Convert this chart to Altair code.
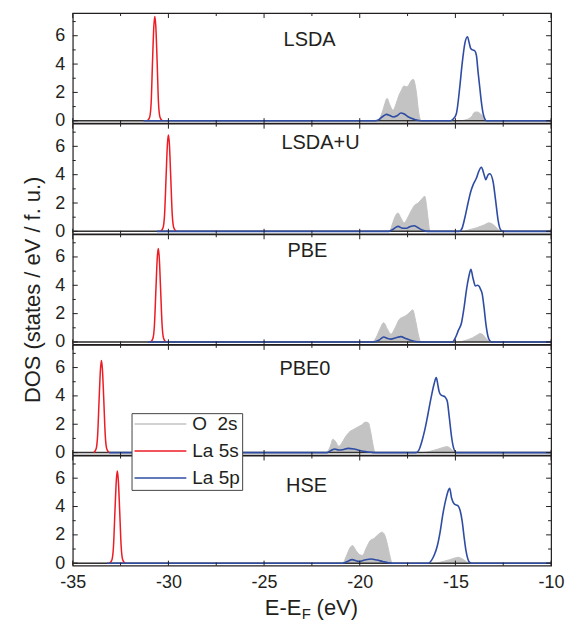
import altair as alt
import pandas as pd

FONT = "Liberation Sans"
TXT = "#231f20"
W, H = 480, 110.5

# ---------------- data (energy in eV, DOS in states/eV/f.u.) ----------------
PANELS = ["LSDA", "LSDA+U", "PBE", "PBE0", "HSE"]
SERIES = ["O\u00a0 2s", "La 5s", "La 5p"]
COLORS = ["#c3c3c3", "#ed1c24", "#2e4ca3"]

X_MAJOR = [-35, -30, -25, -20, -15, -10]
X_MINOR = [-32.5, -27.5, -22.5, -17.5, -12.5]
Y_MAJOR = [0, 2, 4, 6]
Y_MINOR = [1, 3, 5, 7]
ZERO_E = [-35, -10]
ZERO_D = [0, 0]

# LSDA
LSDA_O_E = [-35, -19.1, -18.95, -18.8, -18.69, -18.57, -18.45, -18.26, -18.1, -17.95, -17.82, -17.7,
            -17.55, -17.45, -17.3, -17.2, -17.1, -17.03, -16.95, -16.88, -16.8,
            -14.75, -14.5, -14.3, -14.15, -14.0, -13.85, -13.7, -13.55, -13.45, -13.35, -10]
LSDA_O_D = [0, 0, 0.2, 0.7, 1.2, 1.58, 1.2, 0.75, 1.2, 1.8, 2.15, 2.45,
            2.4, 2.5, 2.85, 2.92, 2.5, 1.9, 0.9, 0.3, 0,
            0, 0.05, 0.15, 0.3, 0.6, 0.62, 0.5, 0.3, 0.1, 0, 0]
LSDA_S_E = [-31.1, -30.98, -30.9, -30.83, -30.76, -30.71, -30.66, -30.59, -30.52, -30.44, -30.32]
LSDA_S_D = [0, 0.25, 1.3, 4.2, 6.7, 7.35, 6.7, 4.2, 1.3, 0.25, 0]
LSDA_P_E = [-31.3, -19.2, -19.0, -18.8, -18.6, -18.4, -18.25, -18.05, -17.85, -17.7, -17.5, -17.3,
            -17.1, -16.9, -16.7, -15.25, -15.1, -14.95, -14.77, -14.65, -14.5, -14.37, -14.28,
            -14.2, -14.1, -13.99, -13.9, -13.82, -13.73, -13.64, -13.55, -13.45, -13.38, -10]
LSDA_P_D = [0, 0, 0.08, 0.3, 0.45, 0.35, 0.27, 0.35, 0.55, 0.5, 0.3, 0.17,
            0.07, 0.02, 0, 0, 0.15, 0.5, 2.4, 4.0, 5.5, 5.93, 5.5,
            5.1, 5.0, 4.94, 4.6, 3.5, 2.4, 1.3, 0.5, 0.1, 0, 0]

# LSDA+U
LSDAU_O_E = [-35, -18.45, -18.3, -18.15, -18.0, -17.85, -17.68, -17.5, -17.35, -17.13, -16.95, -16.78,
             -16.6, -16.5, -16.42, -16.33, -14.7, -14.3, -13.9, -13.5, -13.25, -13.05, -12.85,
             -12.7, -12.6, -10]
LSDAU_O_D = [0, 0, 0.5, 1.05, 1.3, 0.95, 0.6, 0.95, 1.35, 1.85, 2.0, 2.25,
             2.47, 1.7, 0.8, 0, 0, 0.1, 0.25, 0.45, 0.6, 0.5, 0.25,
             0.05, 0, 0]
LSDAU_S_E = [-30.4, -30.28, -30.2, -30.12, -30.05, -30.0, -29.95, -29.88, -29.8, -29.72, -29.6]
LSDAU_S_D = [0, 0.25, 1.2, 3.9, 6.2, 6.8, 6.2, 3.9, 1.2, 0.25, 0]
LSDAU_P_E = [-30.6, -18.5, -18.25, -18.0, -17.75, -17.56, -17.35, -17.16, -16.95, -16.7, -16.45,
             -14.8, -14.65, -14.51, -14.34, -14.2, -14.07, -13.9, -13.78, -13.64, -13.5, -13.41,
             -13.29, -13.2, -13.03, -12.9, -12.77, -12.63, -12.5, -10]
LSDAU_P_D = [0, 0, 0.15, 0.35, 0.22, 0.22, 0.35, 0.4, 0.25, 0.08, 0,
             0, 0.23, 0.94, 2.0, 2.8, 3.3, 3.76, 4.23, 4.52, 4.0, 3.65,
             4.0, 4.07, 3.5, 2.2, 0.8, 0.1, 0, 0]

# PBE
PBE_O_E = [-35, -19.35, -19.15, -18.95, -18.75, -18.55, -18.37, -18.15, -17.93, -17.75, -17.6, -17.42,
           -17.23, -17.08, -16.95, -16.8, -14.85, -14.5, -14.1, -13.85, -13.7, -13.55, -13.4,
           -13.25, -13.15, -10]
PBE_O_D = [0, 0, 0.3, 0.9, 1.36, 0.9, 0.55, 1.0, 1.6, 1.75, 1.85, 2.05,
           2.26, 1.5, 0.6, 0, 0, 0.1, 0.3, 0.5, 0.6, 0.5, 0.25,
           0.05, 0, 0]
PBE_S_E = [-30.93, -30.81, -30.73, -30.65, -30.58, -30.53, -30.48, -30.41, -30.33, -30.25, -30.13]
PBE_S_D = [0, 0.25, 1.2, 3.8, 6.0, 6.6, 6.0, 3.8, 1.2, 0.25, 0]
PBE_P_E = [-31.07, -19.3, -19.0, -18.75, -18.55, -18.37, -18.1, -17.85, -17.6, -17.3, -17.0, -16.8,
           -15.15, -15.0, -14.85, -14.68, -14.55, -14.42, -14.3, -14.19, -14.08, -13.95, -13.85,
           -13.77, -13.68, -13.6, -13.5, -13.4, -13.3, -13.2, -13.1, -10]
PBE_P_D = [0, 0, 0.12, 0.35, 0.25, 0.2, 0.3, 0.38, 0.25, 0.1, 0.02, 0,
           0, 0.3, 0.8, 1.36, 2.4, 3.7, 4.6, 5.13, 4.5, 3.95, 4.0,
           3.95, 3.7, 3.4, 2.4, 1.2, 0.4, 0.08, 0, 0]

# PBE0
PBE0_O_E = [-35, -21.75, -21.55, -21.4, -21.25, -21.1, -20.95, -20.75, -20.5, -20.3, -20.1, -19.9,
            -19.7, -19.55, -19.42, -19.3, -19.2, -16.7, -16.3, -15.9, -15.6, -15.45, -15.3,
            -15.15, -15.0, -14.95, -10]
PBE0_O_D = [0, 0, 0.4, 0.95, 0.75, 0.45, 0.65, 1.1, 1.5, 1.65, 1.8, 1.95,
            2.15, 2.1, 1.4, 0.5, 0, 0, 0.1, 0.25, 0.38, 0.42, 0.35,
            0.15, 0.02, 0, 0]
PBE0_S_E = [-33.9, -33.78, -33.7, -33.62, -33.55, -33.5, -33.45, -33.38, -33.3, -33.22, -33.1]
PBE0_S_D = [0, 0.25, 1.2, 3.8, 5.9, 6.5, 5.9, 3.8, 1.2, 0.25, 0]
PBE0_P_E = [-33.1, -21.7, -21.5, -21.3, -21.1, -20.9, -20.6, -20.3, -20.0, -19.7, -19.4, -19.2,
            -17.05, -16.9, -16.75, -16.6, -16.45, -16.26, -16.12, -16.0, -15.92, -15.85, -15.78,
            -15.65, -15.56, -15.48, -15.42, -15.32, -15.2, -15.1, -15.0, -14.95, -10]
PBE0_P_D = [0, 0, 0.15, 0.25, 0.18, 0.2, 0.3, 0.25, 0.15, 0.07, 0.02, 0,
            0, 0.2, 0.8, 1.6, 2.6, 3.95, 4.8, 5.29, 4.8, 4.3, 4.1,
            4.0, 3.95, 3.8, 3.6, 2.5, 1.1, 0.35, 0.05, 0, 0]

# HSE
HSE_O_E = [-35, -20.9, -20.7, -20.5, -20.38, -20.2, -20.0, -19.86, -19.65, -19.45, -19.25, -19.05,
           -18.83, -18.7, -18.55, -18.42, -18.3, -16.1, -15.7, -15.3, -15.0, -14.86, -14.7,
           -14.5, -14.35, -14.25, -10]
HSE_O_D = [0, 0, 0.5, 1.1, 1.25, 0.9, 0.6, 0.55, 1.1, 1.6, 1.75, 2.0,
           2.19, 2.0, 1.3, 0.5, 0, 0, 0.1, 0.25, 0.38, 0.42, 0.35,
           0.18, 0.04, 0, 0]
HSE_S_E = [-33.07, -32.95, -32.87, -32.79, -32.72, -32.67, -32.62, -32.55, -32.47, -32.39, -32.27]
HSE_S_D = [0, 0.25, 1.2, 3.8, 5.9, 6.5, 5.9, 3.8, 1.2, 0.25, 0]
HSE_P_E = [-33.2, -20.9, -20.65, -20.4, -20.2, -20.03, -19.75, -19.4, -19.1, -18.8, -18.5, -18.3,
           -16.4, -16.25, -16.1, -15.95, -15.8, -15.65, -15.5, -15.38, -15.3, -15.2, -15.07,
           -14.95, -14.86, -14.75, -14.65, -14.55, -14.45, -14.35, -14.25, -14.15, -10]
HSE_P_D = [0, 0, 0.12, 0.25, 0.18, 0.12, 0.22, 0.3, 0.22, 0.12, 0.03, 0,
           0, 0.2, 0.6, 1.2, 2.2, 3.5, 4.5, 5.1, 5.29, 4.6, 4.2,
           4.1, 4.05, 3.7, 3.0, 1.9, 0.9, 0.3, 0.05, 0, 0]

# panel label anchor (left edge, E) and height (DOS)
LABEL_E = [-23.98, -24.09, -23.78, -24.2, -23.85]
LABEL_D = [5.67, 6.23, 6.42, 5.88, 5.45]

PANEL_DATA = [
    (LSDA_O_E, LSDA_O_D, LSDA_S_E, LSDA_S_D, LSDA_P_E, LSDA_P_D),
    (LSDAU_O_E, LSDAU_O_D, LSDAU_S_E, LSDAU_S_D, LSDAU_P_E, LSDAU_P_D),
    (PBE_O_E, PBE_O_D, PBE_S_E, PBE_S_D, PBE_P_E, PBE_P_D),
    (PBE0_O_E, PBE0_O_D, PBE0_S_E, PBE0_S_D, PBE0_P_E, PBE0_P_D),
    (HSE_O_E, HSE_O_D, HSE_S_E, HSE_S_D, HSE_P_E, HSE_P_D),
]

# ---------------- chart ----------------
X_SCALE = alt.Scale(domain=[-35, -10], nice=False, zero=False)
Y_SCALE = alt.Scale(domain=[-0.17, 7.6], nice=False, zero=False)

LEGEND = alt.Legend(title=None, orient="none", legendX=59, legendY=401.5,
                    symbolType="stroke", symbolSize=2704, symbolStrokeWidth=1.5,
                    clipHeight=18, rowPadding=8, padding=2, labelOffset=5,
                    labelFont=FONT, labelFontSize=19, labelColor=TXT,
                    strokeColor="#444", fillColor="white")
COLOR = alt.Color("series:N", scale=alt.Scale(domain=SERIES, range=COLORS), legend=LEGEND)


def panel(idx):
    name = PANELS[idx]
    o_e, o_d, s_e, s_d, p_e, p_d = PANEL_DATA[idx]
    last = idx == len(PANELS) - 1

    if last:
        xax = alt.Axis(values=X_MAJOR, labels=True, ticks=False, tickSize=0, labelFlush=False,
                       domain=False, grid=False, title=None, labelPadding=8, labelFontSize=18,
                       labelFont=FONT, labelColor=TXT, labelExpr="'' + datum.value")
    else:
        xax = None
    ytitle = "DOS (states / eV / f. u.)" if idx == 2 else None
    yax = alt.Axis(values=Y_MAJOR, ticks=False, tickSize=0, domain=False, grid=False,
                   labelFlush=False, labelPadding=8, labelFontSize=18, labelFont=FONT,
                   labelColor=TXT, title=ytitle, titleFont=FONT, titleFontSize=22,
                   titleFontWeight="normal", titleColor=TXT, titlePadding=10)
    XA = alt.X("E:Q", scale=X_SCALE, axis=xax)
    YA = alt.Y("DOS:Q", scale=Y_SCALE, axis=yax)

    o = pd.DataFrame({"E": o_e, "DOS": o_d, "series": SERIES[0]})
    s = pd.DataFrame({"E": s_e, "DOS": s_d, "series": SERIES[1]})
    p = pd.DataFrame({"E": p_e, "DOS": p_d, "series": SERIES[2]})
    z = pd.DataFrame({"E": ZERO_E, "DOS": ZERO_D})
    lab = pd.DataFrame({"E": [LABEL_E[idx]], "DOS": [LABEL_D[idx]], "t": [name]})

    area = alt.Chart(o).mark_area(color=COLORS[0], interpolate="monotone").encode(x=XA, y=YA)
    oline = alt.Chart(o).mark_line(interpolate="monotone", strokeWidth=1).encode(
        x=XA, y=YA, color=COLOR)
    zero = alt.Chart(z).mark_line(color="#333333", strokeWidth=1.5).encode(x=XA, y=YA)
    red = alt.Chart(s).mark_line(interpolate="monotone", strokeWidth=1.5).encode(
        x=XA, y=YA, color=COLOR)
    blue = alt.Chart(p).mark_line(interpolate="monotone", strokeWidth=1.6).encode(
        x=XA, y=YA, color=COLOR)
    label = alt.Chart(lab).mark_text(align="left", baseline="middle", fontSize=20, font=FONT,
                                     color=TXT).encode(x=XA, y=YA, text="t:N")

    def x_ticks(values, y0, y1):
        d = pd.DataFrame({"E": values})
        return alt.Chart(d).mark_rule(color=TXT, strokeWidth=1).encode(
            x=XA, y=alt.value(y0), y2=alt.value(y1))

    def y_ticks(values, x0, x1):
        d = pd.DataFrame({"DOS": values})
        return alt.Chart(d).mark_rule(color=TXT, strokeWidth=1).encode(
            y=YA, x=alt.value(x0), x2=alt.value(x1))

    ticks = [
        x_ticks(X_MAJOR, H, H - 5), x_ticks(X_MINOR, H, H - 3),
        x_ticks(X_MAJOR, 0, 5), x_ticks(X_MINOR, 0, 3),
        y_ticks(Y_MAJOR, 0, 5), y_ticks(Y_MINOR, 0, 3),
        y_ticks(Y_MAJOR, W, W - 5), y_ticks(Y_MINOR, W, W - 3),
    ]
    layers = [area, oline, zero, red, blue, label] + ticks

    if last:
        one = pd.DataFrame({"k": [0]})
        t1 = alt.Chart(one).mark_text(text="E-E", align="right", baseline="alphabetic", fontSize=22,
                                      font=FONT, color=TXT).encode(x=alt.value(229.4), y=alt.value(160))
        t2 = alt.Chart(one).mark_text(text="F", align="left", baseline="alphabetic", fontSize=15,
                                      font=FONT, color=TXT).encode(x=alt.value(229.8), y=alt.value(164.5))
        t3 = alt.Chart(one).mark_text(text="(eV)", align="left", baseline="alphabetic", fontSize=22,
                                      font=FONT, color=TXT).encode(x=alt.value(244.7), y=alt.value(160))
        layers += [t1, t2, t3]

    return alt.layer(*layers).properties(width=W, height=H)


chart = alt.vconcat(*[panel(i) for i in range(len(PANELS))], spacing=0, bounds="flush").properties(
    padding={"left": 21, "top": 10, "right": 5, "bottom": 0},
    background="white",
).configure_view(stroke=TXT, strokeWidth=1.2)

chart.save("out.html", embed_options={"renderer": "svg", "actions": False})
